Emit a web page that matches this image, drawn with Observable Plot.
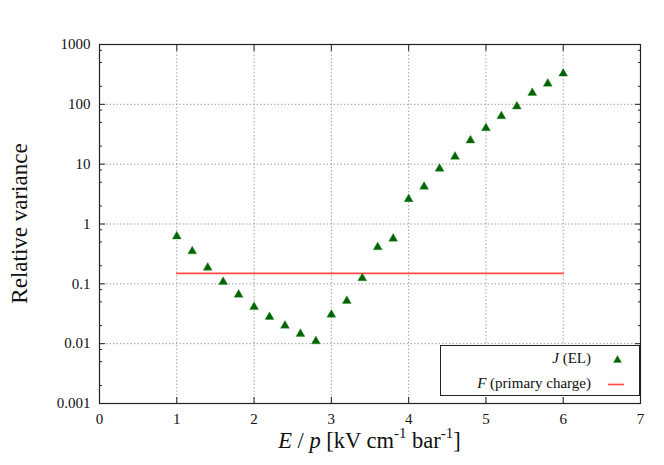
<!DOCTYPE html>
<html>
<head>
<meta charset="utf-8">
<script src="https://cdn.jsdelivr.net/npm/d3@7"></script>
<script src="https://cdn.jsdelivr.net/npm/@observablehq/plot@0.6"></script>
<style>
  html, body { margin: 0; padding: 0; background: #fff; }
  #wrap { position: relative; width: 664px; height: 465px; font-family: "Liberation Serif", "Times New Roman", Times, serif; }
  #wrap svg text { font-family: "Liberation Serif", "Times New Roman", Times, serif !important; }
  #legend { position: absolute; left: 440px; top: 345px; width: 200px; height: 51px; border: 1px solid #222; background: #fff; box-sizing: border-box; font-size: 15px; color: #111; }
  .row { position: absolute; right: 0; display: flex; align-items: center; }
  .row span { margin-right: 8px; }
  .row svg { width: 40px; height: 14px; }
</style>
</head>
<body>
<div id="wrap"></div>
<script>
// Data
const E = [1.0,1.2,1.4,1.6,1.8,2.0,2.2,2.4,2.6,2.8,3.0,3.2,3.4,3.6,3.8,4.0,4.2,4.4,4.6,4.8,5.0,5.2,5.4,5.6,5.8,6.0];
const J = [0.62,0.35,0.186,0.108,0.066,0.041,0.028,0.020,0.0146,0.011,0.0306,0.052,0.124,0.41,0.57,2.61,4.2,8.4,13.3,24.9,40,63.5,92,155,222,327];
const F_x = [1, 6];
const F_y = [0.15, 0.15];
const xTicks = [0,1,2,3,4,5,6,7];
const yTicks = [0.001,0.01,0.1,1,10,100,1000];
const yTickLabels = ["0.001","0.01","0.1","1","10","100","1000"];
const yMinor = [];
for (const d of [0.001,0.01,0.1,1,10,100]) for (const m of [2,5,8]) yMinor.push(d*m);
const xGrid = [1,2,3,4,5,6];
const yGrid = [0.01,0.1,1,10,100];

const jData = E.map((e,i) => ({x: e, y: J[i]}));
const fData = F_x.map((e,i) => ({x: e, y: F_y[i]}));

const W = 664, H = 465, mL = 99, mR = 24, mT = 44, mB = 62;
const SERIF = "'Liberation Serif', 'Times New Roman', Times, serif";
const grid = {stroke: "#999", strokeWidth: 0.9, strokeDasharray: "1.5,2"};
const fmtY = d => yTickLabels[yTicks.indexOf(d)];

const plot = Plot.plot({
  width: W, height: H,
  marginLeft: mL, marginRight: mR, marginTop: mT, marginBottom: mB,
  style: {fontFamily: SERIF, fontSize: "15px", color: "#111", background: "#fff"},
  x: {domain: [0, 7]},
  y: {type: "log", domain: [0.001, 1000]},
  marks: [
    Plot.ruleX(xGrid, grid),
    Plot.ruleY(yGrid, grid),
    // inward major ticks (all four sides)
    Plot.axisX(xTicks, {anchor: "bottom", tickSize: -6, tickFormat: () => "", label: null, stroke: "#222"}),
    Plot.axisX(xTicks, {anchor: "top", tickSize: -6, tickFormat: () => "", label: null, stroke: "#222"}),
    Plot.axisY(yTicks, {anchor: "left", tickSize: -6, tickFormat: () => "", label: null, stroke: "#222"}),
    Plot.axisY(yTicks, {anchor: "right", tickSize: -6, tickFormat: () => "", label: null, stroke: "#222"}),
    Plot.axisY(yMinor, {anchor: "left", tickSize: -3, tickFormat: () => "", label: null, stroke: "#222"}),
    Plot.axisY(yMinor, {anchor: "right", tickSize: -3, tickFormat: () => "", label: null, stroke: "#222"}),
    // labels
    Plot.axisX(xTicks, {anchor: "bottom", tickSize: 0, tickPadding: 10, label: null, fontSize: 15}),
    Plot.axisY(yTicks, {anchor: "left", tickSize: 0, tickPadding: 9, tickFormat: fmtY, label: null, fontSize: 15}),
    Plot.frame({stroke: "#222", strokeWidth: 1.2}),
    Plot.line(fData, {x: "x", y: "y", stroke: "#ff4a4a", strokeWidth: 1.7}),
    Plot.dot(jData, {x: "x", y: "y", symbol: "triangle", r: 3.3, fill: "#006400", stroke: "#2e8b2e", strokeWidth: 0.4})
  ]
});

const wrap = document.getElementById("wrap");
wrap.appendChild(plot);

// Axis titles as real SVG text with italic / superscript parts
const svg = d3.select(plot);
svg.append("text")
  .attr("transform", `translate(${27},${(mT + H - mB) / 2}) rotate(-90)`)
  .attr("text-anchor", "middle")
  .style("font-family", SERIF)
  .attr("font-size", 23)
  .attr("fill", "#111")
  .text("Relative variance");

const xt = svg.append("text")
  .attr("x", (mL + W - mR) / 2)
  .attr("y", 448)
  .attr("text-anchor", "middle")
  .style("font-family", SERIF)
  .attr("font-size", 22.5)
  .attr("fill", "#111");
xt.append("tspan").attr("font-style", "italic").text("E");
xt.append("tspan").text(" / ");
xt.append("tspan").attr("font-style", "italic").text("p");
xt.append("tspan").text(" [kV cm");
xt.append("tspan").attr("font-size", 15).attr("dy", -10).text("-1");
xt.append("tspan").attr("dy", 10).text(" bar");
xt.append("tspan").attr("font-size", 15).attr("dy", -10).text("-1");
xt.append("tspan").attr("dy", 10).text("]");

// Legend
const legend = document.createElement("div");
legend.id = "legend";
legend.innerHTML = `
  <div class="row" style="top:4px"><span><i>J</i> (EL)</span>
    <svg viewBox="0 0 40 14"><path d="M14.5,10.5 L18.5,3.5 L22.5,10.5 Z" fill="#006400" stroke="#2e8b2e" stroke-width="0.4"/></svg></div>
  <div class="row" style="top:29px"><span><i>F</i> (primary charge)</span>
    <svg viewBox="0 0 40 14"><line x1="9" x2="25" y1="7.5" y2="7.5" stroke="#ff4a4a" stroke-width="1.7"/></svg></div>`;
wrap.appendChild(legend);
</script>
</body>
</html>
